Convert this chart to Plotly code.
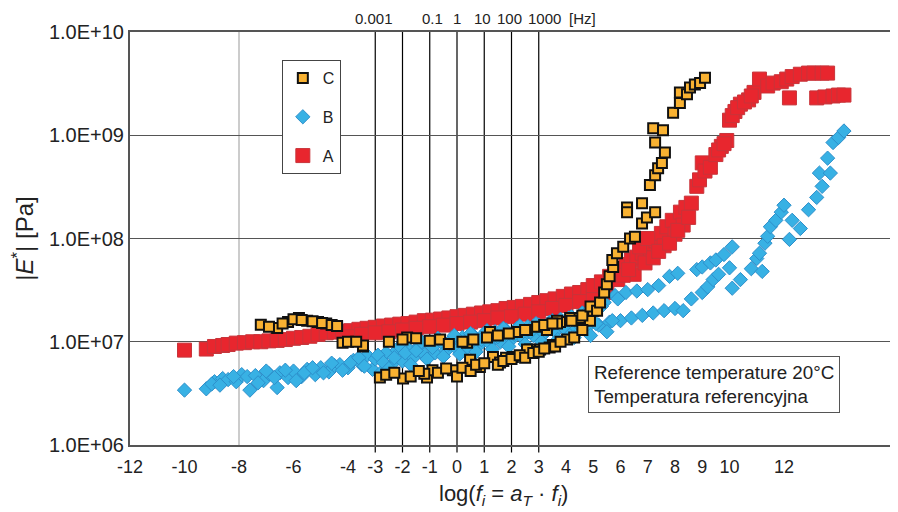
import plotly.graph_objects as go

# ---------------- data ----------------
A_x = [-10.0, -9.2, -8.9, -8.6, -8.4, -8.1, -7.8, -7.5, -7.2, -6.9, -6.6, -6.3, -6.0, -5.7,
       -5.4, -5.1, -4.8, -4.5, -4.2, -3.9, -3.6, -3.3, -3.0, -2.7, -2.4, -2.1, -1.8, -1.5,
       -1.2, -0.9, -0.6, -0.3, 0.0, 0.3, 0.6, 0.9, 1.2, 1.5, 1.8, 2.1, 2.4, 2.7, 3.0, 3.3,
       3.6, 3.9, 4.2, 4.5, 4.8,
       -4.0, -3.5, -3.0, -2.5, -2.0, -1.5, -1.0, -0.5, 0.0, 0.5, 1.0, 1.5, 2.0, 2.5, 3.0,
       3.5, 4.0, 4.5, 5.0, 5.5,
       5.0, 5.3, 5.6, 5.8, 6.0, 6.2, 6.4, 6.6, 6.8, 7.1, 7.3, 7.5, 7.7, 7.9, 8.2, 8.4, 8.6,
       8.8, 8.9, 9.0, 9.1, 9.3, 9.5, 9.7, 9.9, 10.0, 10.2, 10.4, 10.7, 10.9, 11.1, 11.4,
       11.6, 11.9, 12.1, 12.3, 12.6, 12.9, 13.1, 13.4, 13.6, 12.2, 13.2, 13.5, 13.8, 14.0,
       14.2,
       6.5, 6.9, 7.2, 7.6, 8.0, 8.3, 6.7, 7.0, 5.9, 6.1, 6.3, 7.4, 7.8, 8.1, 8.5,
       9.6, 9.8, 10.1, 10.3, 10.55, 10.8]
A_y = [8.3e6, 8.5e6, 9.0e6, 9.2e6, 9.4e6, 9.7e6, 9.8e6, 1.0e7, 1.0e7, 1.02e7, 1.03e7, 1.05e7,
       1.08e7, 1.1e7, 1.13e7, 1.18e7, 1.22e7, 1.24e7, 1.26e7, 1.28e7, 1.32e7, 1.35e7, 1.38e7,
       1.42e7, 1.45e7, 1.48e7, 1.5e7, 1.55e7, 1.6e7, 1.62e7, 1.66e7, 1.7e7, 1.75e7, 1.8e7,
       1.85e7, 1.9e7, 1.95e7, 2.0e7, 2.1e7, 2.15e7, 2.2e7, 2.3e7, 2.4e7, 2.5e7, 2.6e7,
       2.75e7, 2.9e7, 3.0e7, 3.2e7,
       1.12e7, 1.18e7, 1.22e7, 1.25e7, 1.3e7, 1.35e7, 1.4e7, 1.45e7, 1.5e7, 1.55e7, 1.6e7,
       1.7e7, 1.75e7, 1.85e7, 1.95e7, 2.1e7, 2.25e7, 2.45e7, 2.7e7, 3.0e7,
       3.5e7, 3.8e7, 4.3e7, 4.7e7, 5.0e7, 5.6e7, 6.2e7, 6.6e7, 7.2e7, 7.8e7, 9.5e7, 1.12e8,
       1.3e8, 1.5e8, 1.8e8, 2.0e8, 2.2e8, 3.2e8, 3.7e8, 5.4e8, 4.5e8, 4.9e8, 6.5e8, 7.8e8,
       8.9e8, 1.4e9, 1.7e9, 2.0e9, 2.2e9, 2.6e9, 3.5e9, 3.0e9, 3.2e9, 3.3e9, 3.5e9, 3.7e9,
       3.9e9, 4.0e9, 4.0e9, 4.0e9, 4.0e9, 2.3e9, 2.3e9, 2.35e9, 2.4e9, 2.45e9, 2.45e9,
       4.5e7, 5.8e7, 6.5e7, 8.5e7, 1.1e8, 1.35e8, 8.3e7, 1.0e8, 4.0e7, 4.4e7, 5.0e7,
       7.5e7, 9.0e7, 1.2e8, 1.6e8,
       7.2e8, 8.3e8, 1.55e9, 1.85e9, 2.1e9, 2.4e9]

B_x = [-10.0, -9.2, -8.9, -8.6, -8.4, -8.1, -7.9, -7.7, -7.6, -7.4, -7.1, -6.9, -6.6, -6.5,
       -6.2, -6.0, -5.7, -5.5, -5.2, -5.0, -4.7, -4.5, -4.3, -4.0, -3.8, -3.5, -3.3, -3.1,
       -3.0, -2.8, -2.6, -2.4, -2.2, -2.0, -1.8, -1.6, -1.4, -1.2, -1.0, -0.8, -0.6, -0.4,
       -0.2, 0.0, 0.2, 0.4, 0.6, 0.8, 1.0, 1.2, 1.4, 1.6, 1.8, 2.0, 2.2, 2.4, 2.6, 2.8, 3.0,
       3.2, 3.4, 3.6, 3.8, 4.0, 4.2, 4.4, 4.6, 4.8, 5.0, 5.2, 5.4, 5.6, 5.8, 6.0, 6.2, 6.4,
       6.6, 6.8, 7.0, 7.2, 7.4, 7.6, 7.8, 8.0, 8.1, 8.3, 8.6, 8.8, 9.0, 9.0, 9.2, 9.3, 9.4,
       9.5, 9.6, 9.8, 10.0, 10.1, 10.1, 10.4, 10.8, 11.0, 11.1, 11.2, 11.3, 11.4, 11.5,
       11.7, 11.9, 12.0, 12.2, 12.3, 12.6, 12.9, 13.2, 13.4, 13.3, 13.7, 13.6, 13.8, 14.0,
       14.2,
       -9.0, -8.7, -8.2, -7.3, -7.0, -6.7, -6.3, -5.9, -5.6, -5.3, -4.9, -4.6, -4.2, -3.9,
       -3.6, -3.4, -2.9, -2.7, -2.5, -2.3, -2.1, -1.9, -1.7, -1.5, -1.3, -1.1, -0.9, -0.7,
       -0.5, -0.3, -0.1, 0.1, 0.3, 0.5, 0.7, 0.9, 1.1, 1.3, 1.5, 1.7, 1.9, 2.1, 2.3, 2.5,
       2.7, 2.9, 3.1, 3.3, 3.5, 3.7, 3.9, 4.1, 4.3, 4.5, 4.7, 4.9, 5.1, 5.3, 5.5, 5.7, 5.9]
B_y = [3.4e6, 3.5e6, 4.1e6, 4.4e6, 4.3e6, 4.1e6, 4.8e6, 4.6e6, 3.4e6, 4.7e6, 4.2e6, 4.9e6,
       3.6e6, 5.0e6, 4.5e6, 5.2e6, 4.6e6, 5.4e6, 4.8e6, 5.6e6, 5.1e6, 5.9e6, 6.0e6, 5.6e6,
       6.6e6, 6.0e6, 7.4e6, 5.4e6, 6.8e6, 5.0e6, 7.8e6, 6.0e6, 8.3e6, 6.5e6, 8.6e6, 7.0e6,
       9.0e6, 7.5e6, 9.4e6, 7.8e6, 1.0e7, 8.2e6, 1.05e7, 8.5e6, 1.1e7, 8.8e6, 1.15e7,
       9.2e6, 1.2e7, 9.6e6, 1.25e7, 1.0e7, 1.3e7, 1.05e7, 1.35e7, 1.1e7, 1.4e7, 1.15e7,
       1.45e7, 1.2e7, 1.55e7, 1.25e7, 1.65e7, 1.3e7, 1.75e7, 1.35e7, 1.9e7, 1.4e7, 2.1e7,
       1.45e7, 2.4e7, 1.55e7, 2.8e7, 1.6e7, 3.0e7, 1.7e7, 3.1e7, 1.8e7, 3.2e7, 1.9e7,
       3.5e7, 2.0e7, 4.3e7, 2.1e7, 4.6e7, 2.0e7, 2.6e7, 5.0e7, 3.0e7, 5.3e7, 3.4e7, 5.8e7,
       4.0e7, 6.2e7, 4.5e7, 7.0e7, 5.2e7, 8.3e7, 3.3e7, 4.0e7, 5.1e7, 6.4e7, 7.2e7, 4.8e7,
       9.0e7, 1.05e8, 1.3e8, 1.5e8, 1.8e8, 2.1e8, 9.8e7, 1.5e8, 1.25e8, 1.9e8, 2.5e8,
       3.2e8, 4.3e8, 4.3e8, 6.0e8, 8.5e8, 9.5e8, 1.1e9,
       3.9e6, 3.8e6, 4.6e6, 4.0e6, 5.2e6, 4.5e6, 5.3e6, 4.2e6, 5.0e6, 5.6e6, 5.0e6, 6.2e6,
       5.3e6, 6.3e6, 7.0e6, 5.8e6, 7.4e6, 6.3e6, 5.5e6, 7.0e6, 9.0e6, 7.8e6, 6.0e6, 8.2e6,
       1.0e7, 6.8e6, 8.8e6, 1.08e7, 7.2e6, 9.5e6, 1.15e7, 7.6e6, 1.0e7, 1.2e7, 8.0e6,
       1.05e7, 1.28e7, 8.5e6, 1.12e7, 1.35e7, 9.0e6, 1.18e7, 1.42e7, 9.5e6, 1.25e7, 1.5e7,
       1.0e7, 1.3e7, 1.6e7, 1.05e7, 1.38e7, 1.7e7, 1.1e7, 1.45e7, 1.85e7, 1.15e7, 1.5e7,
       2.2e7, 1.25e7, 1.6e7, 2.6e7]

C_x = [-7.2, -6.6, -6.2, -5.8, -5.5, -5.1, -4.8, -4.2, -3.45,
       -2.83, -1.98, -1.1, -0.9, 0.0, 0.84, 1.32, 2.05, 2.68, 3.52, 4.04,
       -1.83, -0.62, 0.37, 1.21, 2.2, 2.94, 3.78,
       -3.45, -1.2, -0.15, 0.0, 0.48, 1.1, 1.58, 1.8, 2.57, 3.05, 3.4, 3.67, 4.15, 4.5,
       4.88, 5.0, 2.57, 3.3, 3.67,
       -6.9, -6.4, -6.0, -5.7, -5.3, -4.95, -4.6, -4.4, -4.0, -3.7,
       -2.6, -2.3, -1.7, -1.4, -0.7, -0.4, 0.2, 0.5, 0.7, 1.0, 1.5, 1.7, 2.0, 2.3, 2.5,
       2.8, 3.0, 3.2, 3.6, 3.8, 4.3, 4.6,
       -2.5, -2.0, -1.5, -1.0, -0.3, 0.2, 0.6, 1.5, 1.9, 2.5, 3.2, 3.5, 4.2, 4.6, 4.9,
       5.14, 5.25, 5.4, 5.5, 5.6, 5.73, 5.7, 5.87, 6.1, 6.35, 6.53,
       6.24, 6.24, 6.79, 6.79, 6.97, 7.27, 7.08, 7.27, 7.38, 7.52, 7.63, 7.27, 7.2, 7.56,
       7.93, 8.18, 8.18, 8.44, 8.55, 8.73, 8.92, 9.1]
C_y = [1.46e7, 1.36e7, 1.55e7, 1.7e7, 1.6e7, 1.55e7, 1.5e7, 9.8e6, 9.0e6,
       4.5e6, 4.4e6, 4.5e6, 5.3e6, 4.8e6, 5.7e6, 7.1e6, 7.1e6, 8.4e6, 9.3e6, 1.05e7,
       1.1e7, 1.05e7, 9.8e6, 1.24e7, 1.24e7, 1.4e7, 1.55e7,
       9.2e6, 4.9e6, 5.3e6, 4.6e6, 6.7e6, 1.1e7, 6.3e6, 7.0e6, 8.4e6, 8.4e6, 8.8e6, 1.6e7,
       1.7e7, 1.7e7, 1.6e7, 2.0e7, 1.3e7, 1.3e7, 1.5e7,
       1.4e7, 1.5e7, 1.65e7, 1.62e7, 1.58e7, 1.52e7, 1.45e7, 1.42e7, 1.0e7, 1.0e7,
       4.8e6, 5.0e6, 4.6e6, 5.2e6, 5.0e6, 5.5e6, 5.6e6, 5.2e6, 6.0e6, 6.2e6, 6.0e6, 6.5e6,
       6.8e6, 7.4e6, 7.0e6, 7.8e6, 8.0e6, 8.6e6, 9.0e6, 1.0e7, 1.1e7, 1.3e7,
       1.0e7, 1.05e7, 1.08e7, 1.02e7, 9.5e6, 1.0e7, 1.05e7, 1.15e7, 1.2e7, 1.3e7, 1.45e7,
       1.5e7, 1.6e7, 1.8e7, 2.2e7,
       2.0e7, 2.4e7, 3.0e7, 3.6e7, 4.3e7, 5.3e7, 6.2e7, 7.2e7, 8.3e7, 1.0e8, 1.04e8,
       2.0e8, 1.8e8, 2.2e8, 1.4e8, 1.6e8, 1.8e8, 3.3e8, 4.1e8, 4.8e8, 5.4e8, 6.8e8, 8.5e8,
       1.17e9, 1.12e9, 1.65e9, 2.05e9, 2.6e9, 2.5e9, 2.9e9, 3.1e9, 3.2e9, 3.6e9]

x_tickvals = [-12, -10, -8, -6, -4, -3, -2, -1, 0, 1, 2, 3, 4, 5, 6, 7, 8, 9, 10, 12]
x_ticktext = ["-12", "-10", "-8", "-6", "-4", "-3", "-2", "-1", "0", "1", "2", "3",
              "4", "5", "6", "7", "8", "9", "10", "12"]
y_tickvals = [1e6, 1e7, 1e8, 1e9, 1e10]
y_ticktext = ["1.0E+06", "1.0E+07", "1.0E+08", "1.0E+09", "1.0E+10"]
freq_pos = [-3, -1, 0, 1, 2, 3]
freq_text = ["0.001", "0.1", "1", "10", "100", "1000"]
black_lines = [-3, -2, -1, 0, 1, 2, 3]

# label nudges in pixels (layout only)
freq_shift = [-1, 3, 0, -2, -2, 6]

# ---------------- figure ----------------
fig = go.Figure()
fig.add_trace(go.Scatter(x=A_x, y=A_y, mode="markers", name="A", legendgroup="A",
                         legendrank=3,
                         marker=dict(symbol="square", size=14, color="#E8262E",
                                     line=dict(color="#C8343A", width=1))))
fig.add_trace(go.Scatter(x=B_x, y=B_y, mode="markers", name="B", legendgroup="B",
                         legendrank=2,
                         marker=dict(symbol="diamond", size=11, color="#38B1E4",
                                     line=dict(color="#2D8FCB", width=1))))
fig.add_trace(go.Scatter(x=C_x, y=C_y, mode="markers", name="C", legendgroup="C",
                         legendrank=1,
                         marker=dict(symbol="square", size=10, color="#F9B232",
                                     line=dict(color="#111111", width=2))))

font = "Liberation Sans, Arial, sans-serif"

shapes = [dict(type="line", xref="x", yref="paper", x0=v, x1=v, y0=-0.018, y1=1,
               line=dict(color="#000000", width=1.2), layer="below") for v in black_lines]
shapes.append(dict(type="line", xref="x", yref="paper", x0=-8, x1=-8, y0=0, y1=1,
                   line=dict(color="#999999", width=1), layer="below"))

annotations = [dict(x=p, y=1.008, xref="x", yref="paper", text=t, showarrow=False,
                    yanchor="bottom", xshift=s,
                    font=dict(size=15, color="#222", family=font))
               for p, t, s in zip(freq_pos, freq_text, freq_shift)]
annotations.append(dict(x=4.04, y=1.008, xref="x", yref="paper", text="[Hz]",
                        showarrow=False, xanchor="left", yanchor="bottom",
                        font=dict(size=15, color="#222", family=font)))
annotations.append(dict(x=0.600, y=0.2155, xref="paper", yref="paper",
                        text="Reference temperature 20°C<br>Temperatura referencyjna",
                        showarrow=False, xanchor="left", yanchor="top", align="left",
                        bordercolor="#555", borderwidth=1, borderpad=5, bgcolor="white",
                        font=dict(size=18.8, color="#222", family=font)))
annotations.append(dict(x=0.49, y=-0.122, xref="paper", yref="paper",
                        text="log(<i>f<sub>i</sub></i> = <i>a<sub>T</sub></i> · <i>f<sub>i</sub></i>)",
                        showarrow=False, yanchor="middle",
                        font=dict(size=22, color="#222", family=font)))

fig.update_layout(
    width=890, height=504,
    margin=dict(l=122, r=5, t=24, b=67),
    paper_bgcolor="white", plot_bgcolor="white",
    font=dict(family=font, color="#222"),
    shapes=shapes, annotations=annotations,
    legend=dict(x=0.199, y=0.932, xanchor="left", yanchor="top",
                traceorder="grouped", tracegroupgap=15,
                bordercolor="#444", borderwidth=1, bgcolor="white",
                font=dict(size=16, family=font, color="#222")),
    xaxis=dict(range=[-12, 16], tickvals=x_tickvals, ticktext=x_ticktext,
               showgrid=False, zeroline=False, automargin=False,
               showline=True, mirror=True, linecolor="#555", linewidth=2,
               ticks="", ticklabelstandoff=4, tickfont=dict(size=18, family=font)),
    yaxis=dict(type="log", range=[6, 10], tickvals=y_tickvals, ticktext=y_ticktext,
               showgrid=True, gridcolor="#555", gridwidth=1, zeroline=False,
               automargin=False,
               showline=True, mirror=True, linecolor="#555", linewidth=2, ticks="",
               tickfont=dict(size=20, family=font),
               title=dict(text="|<i>E</i><sup>*</sup>| [Pa]", standoff=36,
                          font=dict(size=24, family=font))),
)

fig.write_html("out.html")
